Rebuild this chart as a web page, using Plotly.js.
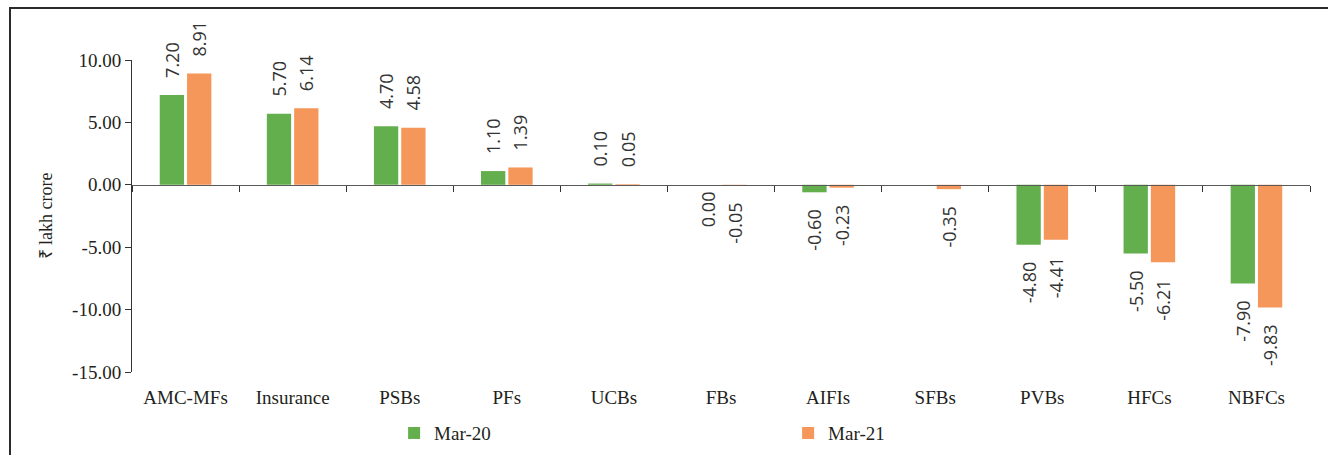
<!DOCTYPE html>
<html>
<head>
<meta charset="utf-8">
<script src="https://cdn.plot.ly/plotly-3.0.1.min.js"></script>
<style>
  html, body { margin: 0; padding: 0; background: #fff; overflow: hidden; }
  #chart { position: absolute; left: 0; top: 0; width: 1328px; height: 455px; }
  #frame { position: absolute; left: 9px; top: 7px; width: 2000px; height: 1000px;
           border-left: 2px solid #2b2b2b; border-top: 2px solid #2b2b2b; pointer-events: none; }
</style>
</head>
<body>
<div id="chart"></div>
<div id="frame"></div>
<script>
// ---- data ----
const categories = ["AMC-MFs", "Insurance", "PSBs", "PFs", "UCBs", "FBs", "AIFIs", "SFBs", "PVBs", "HFCs", "NBFCs"];
const seriesNames = ["Mar-20", "Mar-21"];
const mar20 = [7.20, 5.70, 4.70, 1.10, 0.10, 0.00, -0.60, null, -4.80, -5.50, -7.90];
const mar21 = [8.91, 6.14, 4.58, 1.39, 0.05, -0.05, -0.23, -0.35, -4.41, -6.21, -9.83];
const yTickVals = [-15, -10, -5, 0, 5, 10];
const yRange = [-15, 10];
const yTitle = "₹ lakh crore";

// ---- styles ----
const colors = ["#63af4d", "#f5965a"];
const bargap = 0.49;
const pad = "\u00a0\u00a0\u00a0";
function labels(arr) {
  return arr.map(v => (v === null || v === 0) ? "" :
    (v > 0 ? pad + v.toFixed(2) : v.toFixed(2) + pad));
}
const serif = "Liberation Serif, Times New Roman, serif";
const sans = "Open Sans, Noto Sans, sans-serif";
const labelFont = { family: sans, size: 18, color: "#333" };

function barTrace(name, vals, color) {
  return {
    type: "bar", name: name, x: categories, y: vals,
    marker: { color: color },
    text: labels(vals), textposition: "outside", textangle: -90,
    constraintext: "none", cliponaxis: false,
    textfont: labelFont, outsidetextfont: labelFont,
    hoverinfo: "x+y"
  };
}

// zero-height bars: label hangs below the axis, as in the source
const series = [mar20, mar21];
const annotations = [];
series.forEach((vals, s) => {
  const off = (s - (series.length - 1) / 2) * (1 - bargap) / series.length;
  vals.forEach((v, i) => {
    if (v === 0) {
      annotations.push({
        x: i + off, y: v, xref: "x", yref: "y", showarrow: false,
        text: v.toFixed(2), textangle: -90, yanchor: "top", xanchor: "center",
        yshift: -4, font: labelFont
      });
    }
  });
});

const zeroFrac = (0 - yRange[0]) / (yRange[1] - yRange[0]);

const data = [
  barTrace(seriesNames[0], mar20, colors[0]),
  barTrace(seriesNames[1], mar21, colors[1]),
  { type: "scatter", x: categories, y: categories.map(() => 0), xaxis: "x2", yaxis: "y",
    mode: "markers", marker: { opacity: 0 }, showlegend: false, hoverinfo: "skip" }
];

const layout = {
  width: 1328, height: 455,
  margin: { l: 132, r: 18, t: 60, b: 83, autoexpand: false },
  paper_bgcolor: "#fff", plot_bgcolor: "#fff",
  font: { family: serif, color: "#231f20", size: 19 },
  barmode: "group", bargap: bargap, bargroupgap: 0.11,
  showlegend: true,
  legend: {
    orientation: "h", x: 0.2225, xanchor: "left", y: -0.135, yanchor: "top",
    entrywidth: 349, entrywidthmode: "pixels",
    font: { family: serif, size: 19, color: "#231f20" },
    bgcolor: "rgba(0,0,0,0)"
  },
  annotations: annotations,
  xaxis: {
    type: "category", categoryarray: categories, range: [-0.5, categories.length - 0.5],
    showline: false, showgrid: false, zeroline: false,
    ticks: "outside", ticklen: 8, tickcolor: "rgba(0,0,0,0)",
    tickfont: { family: serif, size: 19, color: "#231f20" },
    fixedrange: true
  },
  xaxis2: {
    overlaying: "x", anchor: "free", position: zeroFrac,
    type: "category", categoryarray: categories, range: [-0.5, categories.length - 0.5],
    showline: true, linecolor: "#5a5a5a", linewidth: 1.5,
    ticks: "outside", tickson: "boundaries", ticklen: 6, tickcolor: "#333", tickwidth: 1,
    showticklabels: false, showgrid: false, zeroline: false, fixedrange: true
  },
  yaxis: {
    range: yRange, tickmode: "array", tickvals: yTickVals,
    ticktext: yTickVals.map(v => v.toFixed(2)),
    showline: true, linecolor: "#333", linewidth: 1,
    ticks: "outside", ticklen: 6, tickcolor: "#333",
    showgrid: false, zeroline: false,
    tickfont: { family: serif, size: 19, color: "#231f20" },
    title: { text: yTitle, font: { family: serif, size: 18, color: "#231f20" }, standoff: 14 },
    fixedrange: true
  }
};

Plotly.newPlot("chart", data, layout, { displayModeBar: false, staticPlot: true });
</script>
</body>
</html>
